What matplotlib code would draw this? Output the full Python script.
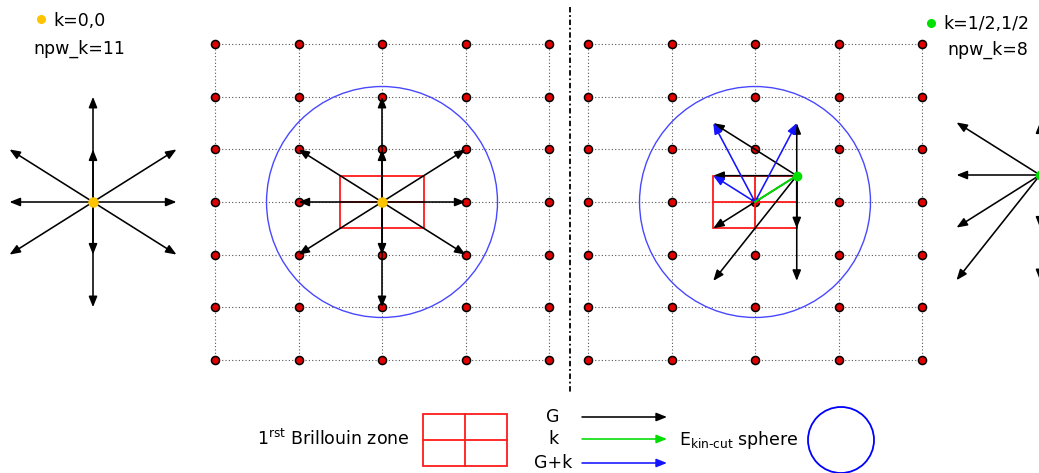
import matplotlib

matplotlib.use("Agg")
import matplotlib.pyplot as plt
from matplotlib.patches import Circle, Rectangle

# reciprocal lattice (cartesian, units of |b1|)
b1 = (1.0, 0.0)
b2 = (0.0, 0.63)
grid_n1 = [-2, -1, 0, 1, 2]
grid_n2 = [-3, -2, -1, 0, 1, 2, 3]
ecut_radius = 1.383

# k = 0,0 : G vectors inside the sphere
k_gamma = (0.0, 0.0)
G_gamma = [(0, 1), (0, 2), (0, -1), (0, -2), (1, 0), (-1, 0),
           (1, 1), (-1, 1), (1, -1), (-1, -1)]
npw_gamma = 11

# k = 1/2,1/2 : G vectors with |G+k| inside the sphere
k_half = (0.5, 0.5)
G_half = [(-1, 0), (-1, 1), (0, 1), (0, -1), (-1, -1), (0, -2), (-1, -2)]
G_half_shown = [(-1, 0), (-1, 1), (0, 1)]  # drawn as G+k from the origin
npw_half = 8

legend_labels = ["G", "k", "G+k"]
legend_colors = ["black", "#00dd00", "#1414ff"]

PX = 83.5  # pixels per lattice unit
W, H = 1039, 473


def px(x, y):
    return x / PX, (H - y) / PX


def cart(n1, n2):
    return n1 * b1[0] + n2 * b2[0], n1 * b1[1] + n2 * b2[1]


def arrow(ax, start, end, color, z=4):
    ax.annotate("", xy=end, xytext=start, annotation_clip=False,
                arrowprops=dict(arrowstyle="-|>,head_length=0.45,head_width=0.18",
                                color=color, lw=1.15, shrinkA=0, shrinkB=0,
                                mutation_scale=14), zorder=z)


def brillouin(ax, cx, cy, z=3):
    w, h = cart(1, 1)
    ax.add_patch(Rectangle((cx - w / 2, cy - h / 2), w, h, fill=False,
                           edgecolor="#ff1a1a", lw=1.3, zorder=z))
    ax.plot([cx - w / 2, cx + w / 2], [cy, cy], color="#ff1a1a", lw=1.3, zorder=z)
    ax.plot([cx, cx], [cy - h / 2, cy + h / 2], color="#ff1a1a", lw=1.3, zorder=z)


def lattice(ax, cx, cy):
    x0, y0 = cart(min(grid_n1), min(grid_n2))
    x1, y1 = cart(max(grid_n1), max(grid_n2))
    for n2 in grid_n2:
        _, yy = cart(0, n2)
        ax.plot([cx + x0, cx + x1], [cy + yy, cy + yy], color="#555555",
                lw=0.8, ls=(0, (1, 2)), zorder=1)
    for n1 in grid_n1:
        xx, _ = cart(n1, 0)
        ax.plot([cx + xx, cx + xx], [cy + y0, cy + y1], color="#555555",
                lw=0.8, ls=(0, (1, 2)), zorder=1)
    xs, ys = [], []
    for n1 in grid_n1:
        for n2 in grid_n2:
            xx, yy = cart(n1, n2)
            xs.append(cx + xx)
            ys.append(cy + yy)
    ax.plot(xs, ys, "o", ms=5.8, mfc="#e00000", mec="black", mew=1.1, ls="none", zorder=2)
    ax.add_patch(Circle((cx, cy), ecut_radius, fill=False, edgecolor="#4848ff",
                        lw=1.0, zorder=2))


fig = plt.figure(figsize=(W / 100, H / 100), dpi=100)
ax = fig.add_axes([0, 0, 1, 1])
ax.set_xlim(0, W / PX)
ax.set_ylim(0, H / PX)
ax.axis("off")

# ---- k = 0,0 ----
sx, sy = px(93, 202)
for g in G_gamma:
    gx, gy = cart(*g)
    arrow(ax, (sx, sy), (sx + gx, sy + gy), "black")
ax.plot(sx, sy, "o", ms=6.5, color="#ffc400", zorder=6)

cx, cy = px(382, 202)
lattice(ax, cx, cy)
brillouin(ax, cx, cy)
for g in G_gamma:
    gx, gy = cart(*g)
    arrow(ax, (cx, cy), (cx + gx, cy + gy), "black")
ax.plot(cx, cy, "o", ms=6.5, color="#ffc400", zorder=6)

# ---- k = 1/2,1/2 ----
cx, cy = px(755, 202)
lattice(ax, cx, cy)
brillouin(ax, cx, cy)
kx, ky = cart(*k_half)
for g in G_half:
    gx, gy = cart(*g)
    arrow(ax, (cx + kx, cy + ky), (cx + kx + gx, cy + ky + gy), "black")
for g in G_half_shown:
    gx, gy = cart(*g)
    arrow(ax, (cx, cy), (cx + kx + gx, cy + ky + gy), "#1414ff", z=5)
ax.plot([cx, cx + kx], [cy, cy + ky], color="#00dd00", lw=1.4, zorder=5)
ax.plot(cx + kx, cy + ky, "o", ms=6, color="#00e000", zorder=6)

sx, sy = px(1040, 175)
for g in G_half:
    gx, gy = cart(*g)
    arrow(ax, (sx, sy), (sx + gx, sy + gy), "black")
ax.plot(sx, sy, "o", ms=6, color="#00e000", zorder=6)

# separator
ax.plot(*zip(px(570, 7), px(570, 393)), color="black", lw=1.3,
        ls=(0, (3, 1.5, 1, 1.5)), zorder=1)

# labels
fs = 12.5
ax.plot(*px(41, 19), "o", ms=5.5, color="#ffc400")
ax.text(*px(53, 26), "k=0,0", fontsize=fs, ha="left", va="baseline")
ax.text(*px(33, 54), "npw_k=%d" % npw_gamma, fontsize=fs, ha="left", va="baseline")
ax.plot(*px(931, 23), "o", ms=5.5, color="#00e000")
ax.text(*px(943, 29), "k=1/2,1/2", fontsize=fs, ha="left", va="baseline")
ax.text(*px(947, 55), "npw_k=%d" % npw_half, fontsize=fs, ha="left", va="baseline")

# legend
ax.text(*px(410, 445), r"1$^{\mathregular{rst}}$ Brillouin zone", fontsize=fs,
        ha="right", va="baseline")
brillouin(ax, *px(465, 440))
for i, (lab, col) in enumerate(zip(legend_labels, legend_colors)):
    ly = [417, 439, 463][i]
    ax.text(*px(553, ly), lab, fontsize=fs, ha="center", va="center")
    arrow(ax, px(582, ly), px(667, ly), col)
ax.text(*px(679, 445), "E$_{\\mathregular{kin\u2010cut}}$ sphere", fontsize=fs,
        ha="left", va="baseline")
ax.add_patch(Circle(px(841, 440), 33 / PX, fill=False, edgecolor="#0000ff", lw=1.3))

fig.savefig("out.png", dpi=100)
